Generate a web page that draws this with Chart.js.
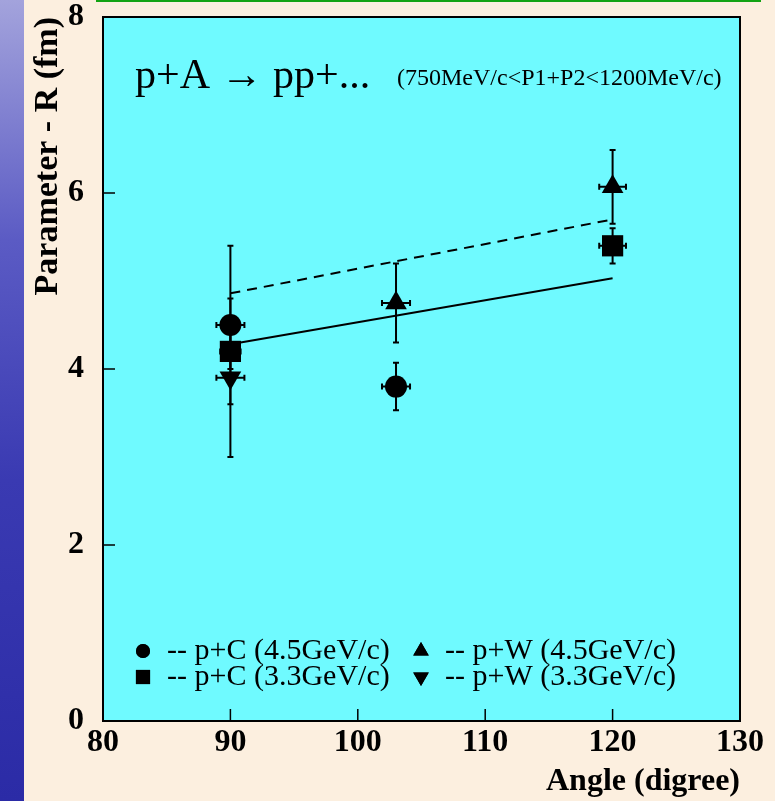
<!DOCTYPE html>
<html>
<head>
<meta charset="utf-8">
<script src="https://cdn.jsdelivr.net/npm/chart.js@4.4.0/dist/chart.umd.min.js"></script>
<style>
  html, body { margin: 0; padding: 0; background: #fcefdf; overflow: hidden; }
  #strip { position: absolute; left: 0; top: 0; width: 24px; height: 801px;
    background: linear-gradient(to bottom, #a3a3dc 0%, #5b5bc4 30%, #3a3ab2 60%, #2b2ba6 100%); }
  #topline { position: absolute; left: 96px; top: 0; width: 665px; height: 2px; background: #13a313; }
  #chart { position: absolute; left: 0; top: 0; }
</style>
</head>
<body>
<div id="strip"></div>
<div id="topline"></div>
<canvas id="chart" width="775" height="801"></canvas>
<script>
// values
const pC45_x = [90, 103];
const pC45_y = [4.5, 3.8];
const pC45_ey = [0.9, 0.27];
const pC45_ex = [1.1, 1.1];

const pC33_x = [90, 120];
const pC33_y = [4.2, 5.4];
const pC33_ey = [0.2, 0.2];
const pC33_ex = [0.8, 1.05];

const pW45_x = [103, 120];
const pW45_y = [4.75, 6.07];
const pW45_ey = [0.45, 0.42];
const pW45_ex = [1.1, 1.05];

const pW33_x = [90];
const pW33_y = [3.9];
const pW33_ey = [0.9];
const pW33_ex = [1.1];

const fitX = [90, 120];
const fitSolidY = [4.28, 5.03];
const fitDashedY = [4.86, 5.70];

const xTicks = [80, 90, 100, 110, 120, 130];
const yTicks = [0, 2, 4, 6, 8];

function pts(xs, ys) {
    return xs.map((x, i) => ({x: x, y: ys[i]}));
}

const serif = "'Liberation Serif', 'Times New Roman', serif";

let series = [
    {label: '-- p+C (4.5GeV/c)', x: pC45_x, y: pC45_y, ex: pC45_ex, ey: pC45_ey, style: 'circle', rot: 0, r: 11, lr: 7},
    {label: '-- p+C (3.3GeV/c)', x: pC33_x, y: pC33_y, ex: pC33_ex, ey: pC33_ey, style: 'rect', rot: 0, r: 15, lr: 10},
    {label: '-- p+W (4.5GeV/c)', x: pW45_x, y: pW45_y, ex: pW45_ex, ey: pW45_ey, style: 'triangle', rot: 0, r: 12.5, lr: 9},
    {label: '-- p+W (3.3GeV/c)', x: pW33_x, y: pW33_y, ex: pW33_ex, ey: pW33_ey, style: 'triangle', rot: 180, r: 12.5, lr: 9}
];

let datasets = [
    {type: 'line', data: pts(fitX, fitSolidY), borderColor: '#000', borderWidth: 2, pointRadius: 0, fill: false},
    {type: 'line', data: pts(fitX, fitDashedY), borderColor: '#000', borderWidth: 2, borderDash: [10, 7], pointRadius: 0, fill: false}
];
series.forEach(s => {
    datasets.push({
        type: 'scatter',
        label: s.label,
        data: pts(s.x, s.y),
        pointStyle: s.style,
        rotation: s.rot,
        pointRadius: s.r,
        backgroundColor: '#000',
        borderColor: '#000',
        borderWidth: 0,
        errX: s.ex,
        errY: s.ey
    });
});

// plot frame, inside ticks, error bars, legend and texts
const framePlugin = {
    id: 'frame',
    beforeDraw(chart) {
        const a = chart.chartArea, ctx = chart.ctx;
        ctx.save();
        ctx.fillStyle = '#6ffaff';
        ctx.fillRect(a.left, a.top, a.right - a.left, a.bottom - a.top);
        ctx.restore();
    },
    beforeDatasetsDraw(chart) {
        const ctx = chart.ctx, xs = chart.scales.x, ys = chart.scales.y;
        ctx.save();
        ctx.strokeStyle = '#000';
        ctx.lineWidth = 2;
        chart.data.datasets.forEach(ds => {
            if (!ds.errY) return;
            ds.data.forEach((p, i) => {
                const px = xs.getPixelForValue(p.x), py = ys.getPixelForValue(p.y);
                const y1 = ys.getPixelForValue(p.y + ds.errY[i]);
                const y2 = ys.getPixelForValue(p.y - ds.errY[i]);
                const x1 = xs.getPixelForValue(p.x - ds.errX[i]);
                const x2 = xs.getPixelForValue(p.x + ds.errX[i]);
                ctx.beginPath();
                ctx.moveTo(px, y1); ctx.lineTo(px, y2);
                ctx.moveTo(x1, py); ctx.lineTo(x2, py);
                ctx.moveTo(px - 3, y1); ctx.lineTo(px + 3, y1);
                ctx.moveTo(px - 3, y2); ctx.lineTo(px + 3, y2);
                ctx.moveTo(x1, py - 3); ctx.lineTo(x1, py + 3);
                ctx.moveTo(x2, py - 3); ctx.lineTo(x2, py + 3);
                ctx.stroke();
            });
        });
        ctx.restore();
    },
    afterDraw(chart) {
        const a = chart.chartArea, ctx = chart.ctx, xs = chart.scales.x, ys = chart.scales.y;
        ctx.save();
        ctx.strokeStyle = '#000';
        ctx.lineWidth = 1.5;
        ctx.beginPath();
        xTicks.forEach(v => {
            const px = xs.getPixelForValue(v);
            ctx.moveTo(px, a.bottom); ctx.lineTo(px, a.bottom - 12);
        });
        yTicks.forEach(v => {
            const py = ys.getPixelForValue(v);
            ctx.moveTo(a.left, py); ctx.lineTo(a.left + 12, py);
        });
        ctx.stroke();
        ctx.lineWidth = 2;
        ctx.strokeRect(a.left, a.top, a.right - a.left, a.bottom - a.top);

        // legend inside the frame, two columns
        const cols = [a.left + 40, a.left + 318];
        const rows = [a.bottom - 70, a.bottom - 44];
        ctx.fillStyle = '#000';
        ctx.font = '30px ' + serif;
        ctx.textBaseline = 'middle';
        series.forEach((s, k) => {
            const cx = cols[Math.floor(k / 2)], cy = rows[k % 2];
            Chart.helpers.drawPoint(ctx, {pointStyle: s.style, rotation: s.rot, radius: s.lr, borderWidth: 0}, cx, cy);
            ctx.fill();
            ctx.fillText(s.label, cx + 24, cy);
        });

        // reaction text
        ctx.textBaseline = 'alphabetic';
        ctx.font = '42px ' + serif;
        ctx.fillText('p+A \u2192 pp+...', a.left + 32, a.top + 71);
        ctx.font = '24px ' + serif;
        ctx.fillText('(750MeV/c<P1+P2<1200MeV/c)', a.left + 294, a.top + 68);
        ctx.restore();
    }
};

new Chart(document.getElementById('chart').getContext('2d'), {
    data: {datasets: datasets},
    options: {
        responsive: false,
        animation: false,
        devicePixelRatio: 1,
        layout: {padding: {left: 28, right: 35, top: 17, bottom: 0}},
        plugins: {legend: {display: false}, tooltip: {enabled: false}},
        scales: {
            x: {
                type: 'linear', min: 80, max: 130,
                grid: {display: false, drawTicks: false},
                border: {display: false},
                afterFit(scale) { scale.height = 80; scale.paddingLeft = 0; scale.paddingRight = 0; },
                afterBuildTicks(scale) { scale.ticks = xTicks.map(v => ({value: v})); },
                ticks: {padding: 6, color: '#000', font: {family: serif, weight: 'bold', size: 32, lineHeight: 1}},
                title: {display: true, text: 'Angle (digree)', align: 'end', color: '#000', padding: 0,
                    font: {family: serif, weight: 'bold', size: 32}}
            },
            y: {
                type: 'linear', min: 0, max: 8,
                grid: {display: false, drawTicks: false},
                border: {display: false},
                afterFit(scale) { scale.width = 75; scale.paddingTop = 0; scale.paddingBottom = 0; },
                afterBuildTicks(scale) { scale.ticks = yTicks.map(v => ({value: v})); },
                ticks: {padding: 19, color: '#000', font: {family: serif, weight: 'bold', size: 32, lineHeight: 1}},
                title: {display: true, text: 'Parameter - R (fm)', align: 'end', color: '#000', padding: 0,
                    font: {family: serif, weight: 'bold', size: 34}}
            }
        }
    },
    plugins: [framePlugin]
});
</script>
</body>
</html>
